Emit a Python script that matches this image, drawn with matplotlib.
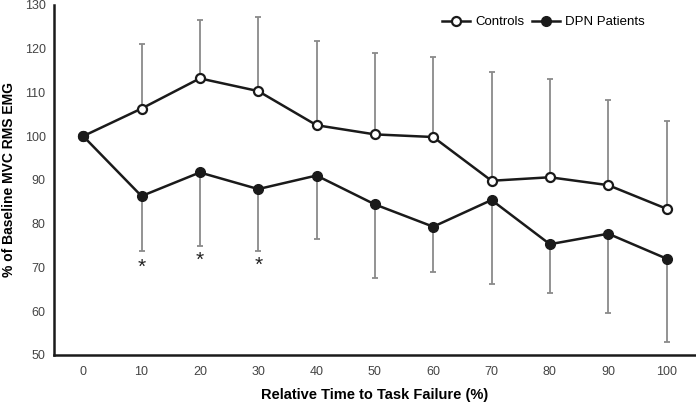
import matplotlib.pyplot as plt
import matplotlib as mpl

mpl.rcParams['font.family'] = ['Liberation Sans', 'DejaVu Sans']

# data
time_pct = [0, 10, 20, 30, 40, 50, 60, 70, 80, 90, 100]
controls = [100, 106.3, 113.2, 110.3, 102.5, 100.4, 99.8, 89.8, 90.6, 88.8, 83.4]
controls_upper = [100, 121.1, 126.5, 127.2, 121.8, 119.0, 118.0, 114.6, 113.1, 108.3, 103.5]
dpn = [100, 86.3, 91.7, 87.9, 91.0, 84.4, 79.3, 85.4, 75.3, 77.7, 72.0]
dpn_lower = [100, 73.7, 75.0, 73.7, 76.4, 67.6, 69.0, 66.2, 64.1, 59.5, 53.0]
star_x = [10, 20, 30]
star_y = [70.0, 71.6, 70.4]

fig = plt.figure(figsize=(6.96, 4.07), dpi=100)
ax = fig.add_axes([0.0776, 0.128, 0.922, 0.86])

# one sided error bars
c_err = [[0] * len(controls), [u - m for u, m in zip(controls_upper, controls)]]
d_err = [[m - l for l, m in zip(dpn_lower, dpn)], [0] * len(dpn)]
ax.errorbar(time_pct, controls, yerr=c_err, fmt='none', ecolor='#8a8a8a',
            elinewidth=1.3, capsize=2, capthick=1.3, zorder=1)
ax.errorbar(time_pct, dpn, yerr=d_err, fmt='none', ecolor='#8a8a8a',
            elinewidth=1.3, capsize=2, capthick=1.3, zorder=1)

ax.plot(time_pct, controls, color='#1a1a1a', lw=1.8, marker='o', ms=6.5,
        mfc='white', mec='#1a1a1a', mew=1.6, label='Controls', zorder=3)
ax.plot(time_pct, dpn, color='#1a1a1a', lw=1.8, marker='o', ms=7,
        mfc='#1a1a1a', mec='#1a1a1a', label='DPN Patients', zorder=4)

for x, y in zip(star_x, star_y):
    ax.text(x, y, '*', ha='center', va='center', fontsize=15, color='#222222')

ax.set_xlim(-5, 105)
ax.set_ylim(50, 130)
ax.set_xticks(time_pct)
ax.set_yticks(range(50, 131, 10))
ax.tick_params(length=0, labelsize=9, labelcolor='#444444', pad=8)
ax.tick_params(axis='y', pad=6)

for s in ['top', 'right']:
    ax.spines[s].set_visible(False)
for s in ['left', 'bottom']:
    ax.spines[s].set_linewidth(1.8)
    ax.spines[s].set_color('#1a1a1a')

ax.set_xlabel('Relative Time to Task Failure (%)', fontsize=10.5, fontweight='bold', labelpad=7)
ax.set_ylabel('% of Baseline MVC RMS EMG', fontsize=10, fontweight='bold', labelpad=6)

ax.legend(loc='upper right', bbox_to_anchor=(0.938, 1.0), ncol=2, frameon=False,
          fontsize=9.5, handlelength=2.1, handletextpad=0.4, columnspacing=0.6,
          borderaxespad=0.45)

fig.savefig('out.png', dpi=100)
